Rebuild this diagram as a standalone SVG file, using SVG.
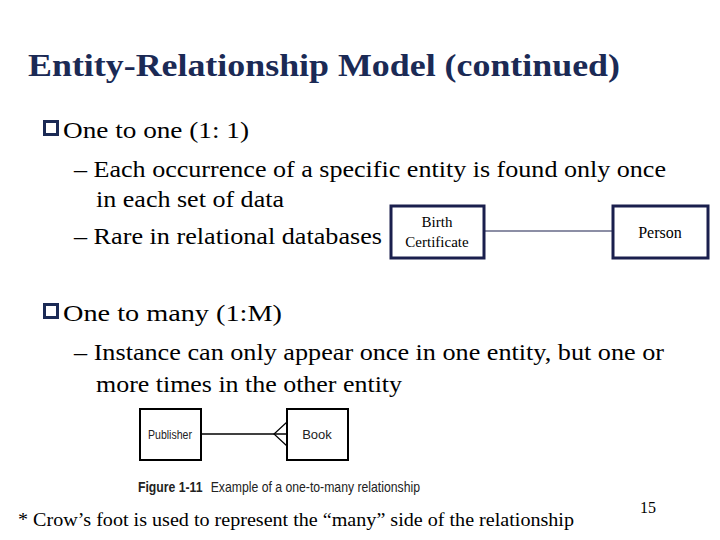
<svg xmlns="http://www.w3.org/2000/svg" width="720" height="540" viewBox="0 0 720 540">
<style>
.t{font-family:"Liberation Serif",serif;fill:#000}
.box{fill:#fff;stroke:#1a1f4d;stroke-width:3}
.fbox{fill:#fff;stroke:#000;stroke-width:2}
.s{font-family:"Liberation Sans Narrow","Liberation Sans",sans-serif;fill:#222}
</style>
<rect width="720" height="540" fill="#fff"/>
<text x="28" y="76" class="t" font-size="32" font-weight="bold" style="fill:#1b2a55" textLength="592" lengthAdjust="spacingAndGlyphs">Entity-Relationship Model (continued)</text>
<g class="t" font-size="24">
<text x="63" y="138" textLength="186" lengthAdjust="spacingAndGlyphs">One to one (1: 1)</text>
<text x="74" y="177" textLength="592" lengthAdjust="spacingAndGlyphs">– Each occurrence of a specific entity is found only once</text>
<text x="96" y="207" textLength="188" lengthAdjust="spacingAndGlyphs">in each set of data</text>
<text x="74" y="244" textLength="308" lengthAdjust="spacingAndGlyphs">– Rare in relational databases</text>
<text x="63" y="321" textLength="219" lengthAdjust="spacingAndGlyphs">One to many (1:M)</text>
<text x="74" y="360" textLength="590" lengthAdjust="spacingAndGlyphs">– Instance can only appear once in one entity, but one or</text>
<text x="96" y="392" textLength="306" lengthAdjust="spacingAndGlyphs">more times in the other entity</text>
</g>
<g fill="#1b2a55"><rect x="43" y="120" width="16" height="16"/><rect x="43" y="303" width="16" height="16"/></g>
<g fill="#fff"><rect x="46" y="123" width="10" height="10"/><rect x="46" y="306" width="10" height="10"/></g>
<g id="connectors" stroke="#000" fill="none">
<line x1="485" y1="231" x2="612" y2="231" stroke-width="1.2" stroke="#1a1f4d"/>
<line x1="201" y1="434" x2="287" y2="434" stroke-width="1.5"/>
<path d="M287 422 L274 434 L287 446" stroke-width="1.2"/>
</g>
<g id="birth"><rect class="box" x="391" y="206" width="93" height="52"/>
<text x="437" y="227" class="t" font-size="15" text-anchor="middle">Birth</text>
<text x="437" y="247" class="t" font-size="15" text-anchor="middle">Certificate</text></g>
<g id="person"><rect class="box" x="613" y="206" width="95" height="52"/>
<text x="660" y="238" class="t" font-size="16" text-anchor="middle">Person</text></g>
<g id="publisher"><rect class="fbox" x="140" y="409" width="61" height="51"/>
<text x="170" y="439" class="s" font-size="13" text-anchor="middle" textLength="44" lengthAdjust="spacingAndGlyphs">Publisher</text></g>
<g id="book"><rect class="fbox" x="287" y="409" width="61" height="51"/>
<text x="317" y="439" class="s" font-size="13" text-anchor="middle">Book</text></g>
<text x="138" y="492" class="s" font-size="15" textLength="282" lengthAdjust="spacingAndGlyphs"><tspan font-weight="bold">Figure 1-11</tspan><tspan dx="10">Example of a one-to-many relationship</tspan></text>
<text x="18" y="526" class="t" font-size="18" textLength="556" lengthAdjust="spacingAndGlyphs">* Crow’s foot is used to represent the “many” side of the relationship</text>
<text x="640" y="513" class="t" font-size="16">15</text>
</svg>
